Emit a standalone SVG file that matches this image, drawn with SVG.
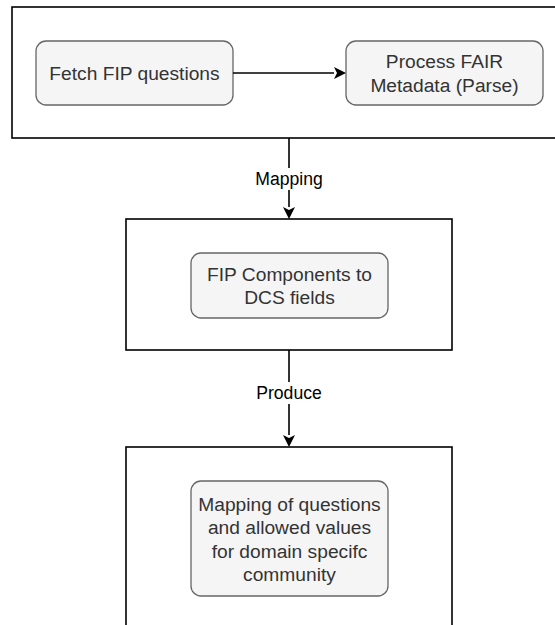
<svg xmlns="http://www.w3.org/2000/svg" width="555" height="625" viewBox="0 0 555 625">
<style>
.container{fill:#ffffff;stroke:#000000;stroke-width:1.6}
.node{fill:#f5f5f5;stroke:#666666;stroke-width:1.3}
.nt{font-family:"Liberation Sans",Arial,sans-serif;font-size:19.2px;fill:#333333;text-anchor:middle;dominant-baseline:central}
.edge{fill:none;stroke:#000000;stroke-width:1.6}
.lbl{font-family:"Liberation Sans",Arial,sans-serif;font-size:17.6px;fill:#000000;text-anchor:middle;dominant-baseline:central}
</style>
<defs>
<marker id="arr" viewBox="0 0 10 10" refX="10" refY="5" markerWidth="7.5" markerHeight="7.5" markerUnits="userSpaceOnUse" orient="auto" overflow="visible">
<path d="M0,0 L10,5 L0,10 L2.5,5 Z" fill="#000000" transform="scale(1.5) translate(-3.3,-1.7)"/>
</marker>
</defs>
<rect width="555" height="625" fill="#ffffff"/>
<g id="container1"><rect class="container" x="12" y="7" width="554" height="131"/></g>
<g id="container2"><rect class="container" x="126" y="219" width="326" height="131"/></g>
<g id="container3"><rect class="container" x="126" y="447" width="326" height="200"/></g>
<g id="fetch"><rect class="node" x="36" y="41" width="197" height="64" rx="10"/><text class="nt" x="134.5" y="73">Fetch FIP questions</text></g>
<g id="process"><rect class="node" x="346" y="41" width="197" height="64" rx="10"/><text class="nt" x="444.5" y="61.5">Process FAIR</text><text class="nt" x="444.5" y="85">Metadata (Parse)</text></g>
<g id="components"><rect class="node" x="191" y="253" width="197" height="65" rx="10"/><text class="nt" x="289.5" y="274">FIP Components to</text><text class="nt" x="289.5" y="297.5">DCS fields</text></g>
<g id="mappingresult"><rect class="node" x="191" y="481" width="197" height="115" rx="10"/><text class="nt" x="289.5" y="504">Mapping of questions</text><text class="nt" x="289.5" y="527.5">and allowed values</text><text class="nt" x="289.5" y="551">for domain specifc</text><text class="nt" x="289.5" y="574.5">community</text></g>
<g id="connectors">
<path d="M233,73 H334" class="edge"/>
<path d="M346,73 L334,67 L337,73 L334,79 Z" fill="#000"/>
<path d="M289,138 V207" class="edge"/>
<path d="M289,219 L283,207 L289,210 L295,207 Z" fill="#000"/>
<rect x="254" y="168" width="70" height="22" fill="#ffffff"/>
<text class="lbl" x="289" y="179">Mapping</text>
<path d="M289,350 V435" class="edge"/>
<path d="M289,447 L283,435 L289,438 L295,435 Z" fill="#000"/>
<rect x="255" y="382" width="68" height="22" fill="#ffffff"/>
<text class="lbl" x="289" y="393">Produce</text>
</g>
</svg>
